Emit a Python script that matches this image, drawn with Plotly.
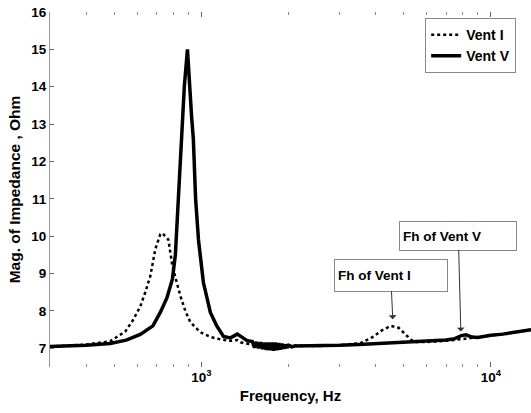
import plotly.graph_objects as go
import math

# Vent I (dotted)
freq_i = [300, 400, 484, 546, 580, 615, 640, 666, 693, 721, 733, 750, 769, 794, 820, 846, 880, 916,
          992, 1080, 1163, 1260, 1330, 1365, 1443, 1600, 2000, 2500, 3000, 3548, 3900, 4200, 4509,
          4800, 5100, 5417, 6000, 7000, 8000, 9000, 10000, 12000, 13750]
mag_i = [7.05, 7.10, 7.19, 7.45, 7.75, 8.12, 8.50, 8.93, 9.65, 10.05, 10.08, 10.00, 9.91, 9.20, 8.80,
         8.40, 8.00, 7.70, 7.43, 7.30, 7.24, 7.20, 7.22, 7.16, 7.12, 7.10, 7.08, 7.06, 7.08, 7.14, 7.30,
         7.48, 7.60, 7.55, 7.35, 7.17, 7.17, 7.20, 7.25, 7.30, 7.35, 7.42, 7.50]

# Vent V (solid)
freq_v = [300, 400, 484, 550, 615, 680, 721, 760, 794, 813, 826, 845, 860, 873, 895, 909, 925, 938,
          955, 977, 1016, 1074, 1130, 1192, 1260, 1330, 1380, 1443,
          1500, 1525, 1550, 1575, 1600, 1625, 1650, 1675, 1700, 1725, 1750, 1775, 1800, 1825, 1850,
          1875, 1900, 1925, 1950, 1975, 2000, 2050, 2100,
          2500, 3000, 3500, 4000, 5000, 6000, 7000, 7500, 7900, 8200, 8600, 9000, 10000, 11000, 12000, 13750]
mag_v = [7.05, 7.08, 7.13, 7.22, 7.37, 7.60, 7.96, 8.35, 8.85, 9.50, 10.50, 11.80, 13.00, 14.00, 15.00,
         14.00, 13.20, 12.60, 11.00, 9.90, 8.76, 7.96, 7.60, 7.32, 7.28, 7.38, 7.30, 7.20,
         7.18, 7.02, 7.17, 7.00, 7.16, 6.98, 7.15, 6.96, 7.15, 6.95, 7.15, 6.94, 7.15, 6.95, 7.14,
         6.97, 7.12, 6.99, 7.10, 7.01, 7.08, 7.04, 7.06,
         7.06, 7.08, 7.10, 7.12, 7.15, 7.18, 7.22, 7.26, 7.34, 7.36, 7.30, 7.29, 7.35, 7.38, 7.43, 7.50]

x_major = [1000, 10000]
x_major_text = ["10<sup>3</sup>", "10<sup>4</sup>"]
x_minor = [300, 400, 500, 600, 700, 800, 900, 2000, 3000, 4000, 5000, 6000, 7000, 8000, 9000]
y_ticks = [7, 8, 9, 10, 11, 12, 13, 14, 15, 16]

ann_text = ["Fh of Vent I", "Fh of Vent V"]
ann_x = [4580, 7870]
ann_y = [7.78, 7.45]

font = "Liberation Sans, Arial, sans-serif"

fig = go.Figure()
fig.add_trace(go.Scatter(x=freq_i, y=mag_i, mode="lines", name="Vent I",
                         line=dict(color="black", width=2.5, dash="dot")))
fig.add_trace(go.Scatter(x=freq_v, y=mag_v, mode="lines", name="Vent V",
                         line=dict(color="black", width=3.5)))

ann_offsets = [(-2, -44, 106, 25), (-2.5, -96, 110, 22)]
for t, ax_, ay_, (dx, dy, w, h) in zip(ann_text, ann_x, ann_y, ann_offsets):
    fig.add_annotation(x=math.log10(ax_), y=ay_, text=t, showarrow=True,
                       ax=dx, ay=dy, arrowhead=1, arrowsize=1.3, arrowwidth=1, arrowcolor="#333",
                       bordercolor="#888", borderwidth=1, borderpad=3, bgcolor="white",
                       width=w, height=h, align="left",
                       font=dict(family=font, size=13.5, color="black", weight="bold"))

fig.update_layout(
    width=531, height=413,
    margin=dict(l=50, r=0, t=12, b=46),
    paper_bgcolor="white", plot_bgcolor="white",
    font=dict(family=font, size=13, color="black"),
    showlegend=True,
    legend=dict(x=0.78, y=0.983, xanchor="left", yanchor="top",
                bgcolor="white", bordercolor="#888", borderwidth=1,
                font=dict(family=font, size=14, color="black", weight="bold"),
                tracegroupgap=0, itemwidth=30),
    xaxis=dict(type="log", range=[math.log10(300), math.log10(13750)],
               tickvals=x_major, ticktext=x_major_text, ticks="inside", ticklen=5,
               tickcolor="#666", showline=False, mirror="ticks", showgrid=False, zeroline=False,
               minor=dict(tickvals=x_minor, ticks="inside", ticklen=3, tickcolor="#888", showgrid=False),
               title=dict(text="Frequency, Hz", font=dict(size=15, weight="bold"), standoff=6),
               tickfont=dict(size=13.5, weight="bold"), automargin=False),
    yaxis=dict(range=[6.5, 16], tickvals=y_ticks, ticks="inside", ticklen=4, tickcolor="#666",
               showline=True, linecolor="#999", linewidth=1, mirror=False,
               showgrid=False, zeroline=False,
               title=dict(text="Mag. of Impedance , Ohm", font=dict(size=15.5, weight="bold"), standoff=6),
               tickfont=dict(size=13.5, weight="bold"), automargin=False),
)

fig.write_html("out.html", config={"displayModeBar": False},
               post_script="document.body.style.margin='0';document.body.style.overflow='hidden';")
